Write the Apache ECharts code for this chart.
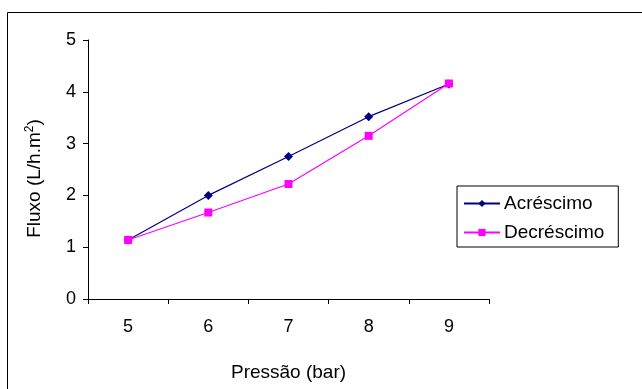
<!DOCTYPE html>
<html>
<head>
<meta charset="utf-8">
<script src="https://cdn.jsdelivr.net/npm/echarts@6/dist/echarts.min.js"></script>
<style>
  html, body { margin: 0; padding: 0; background: #fff; }
  #chart { width: 642px; height: 389px; }
</style>
</head>
<body>
<div id="chart"></div>
<script>
// Pressure levels (bar)
const pressures = ['5', '6', '7', '8', '9'];
// Permeate flux while pressure is increased
const acrescimo = [1.14, 2.0, 2.75, 3.52, 4.15];
// Permeate flux while pressure is decreased
const decrescimo = [1.14, 1.67, 2.22, 3.15, 4.16];

const font = 'Liberation Sans, Arial, sans-serif';
const chart = echarts.init(document.getElementById('chart'), null, { renderer: 'canvas' });

chart.setOption({
  animation: false,
  backgroundColor: '#fff',
  graphic: [{
    type: 'rect',
    shape: { x: 7.5, y: 12.5, width: 660, height: 400 },
    style: { fill: 'none', stroke: '#000', lineWidth: 1 },
    silent: true
  }],
  grid: { left: 88, right: 153, top: 40, bottom: 90, containLabel: false },
  legend: {
    orient: 'vertical',
    left: 457,
    top: 186,
    padding: [8, 14, 5, 6],
    itemGap: 10,
    itemWidth: 36,
    itemHeight: 9,
    borderColor: '#000',
    borderWidth: 1,
    textStyle: { fontFamily: font, fontSize: 19, color: '#000', padding: [0, 0, 0, -1] },
    data: ['Acréscimo', 'Decréscimo']
  },
  xAxis: {
    type: 'category',
    data: pressures,
    boundaryGap: true,
    name: 'Pressão (bar)',
    nameLocation: 'middle',
    nameGap: 64,
    nameTextStyle: { fontFamily: font, fontSize: 19, color: '#000' },
    axisLine: { lineStyle: { color: '#000', width: 1 } },
    axisTick: { show: true, length: 5, inside: false, lineStyle: { color: '#000' } },
    axisLabel: { fontFamily: font, fontSize: 18, color: '#000', margin: 19 },
    splitLine: { show: false }
  },
  yAxis: {
    type: 'value',
    min: 0,
    max: 5,
    interval: 1,
    name: 'Fluxo (L/h.m{sup|2})',
    nameLocation: 'middle',
    nameGap: 42,
    nameRotate: 90,
    nameTextStyle: {
      fontFamily: font, fontSize: 19, color: '#000', lineHeight: 22, padding: [0, 18, 0, 0],
      rich: { sup: { fontFamily: font, fontSize: 12, color: '#000', verticalAlign: 'top', lineHeight: 22, padding: [0, 0, 8, 0] } }
    },
    axisLine: { show: true, lineStyle: { color: '#000', width: 1 } },
    axisTick: { show: true, length: 5, lineStyle: { color: '#000' } },
    axisLabel: { fontFamily: font, fontSize: 18, color: '#000', margin: 12 },
    splitLine: { show: false }
  },
  series: [
    {
      name: 'Acréscimo',
      type: 'line',
      data: acrescimo,
      symbol: 'diamond',
      symbolSize: 9,
      color: '#000080',
      lineStyle: { color: '#000080', width: 1.2 },
      itemStyle: { color: '#000080' },
      z: 3
    },
    {
      name: 'Decréscimo',
      type: 'line',
      data: decrescimo,
      symbol: 'rect',
      symbolSize: 8,
      color: '#FF00FF',
      lineStyle: { color: '#FF00FF', width: 1.2 },
      itemStyle: { color: '#FF00FF' },
      z: 4
    }
  ]
});
</script>
</body>
</html>
